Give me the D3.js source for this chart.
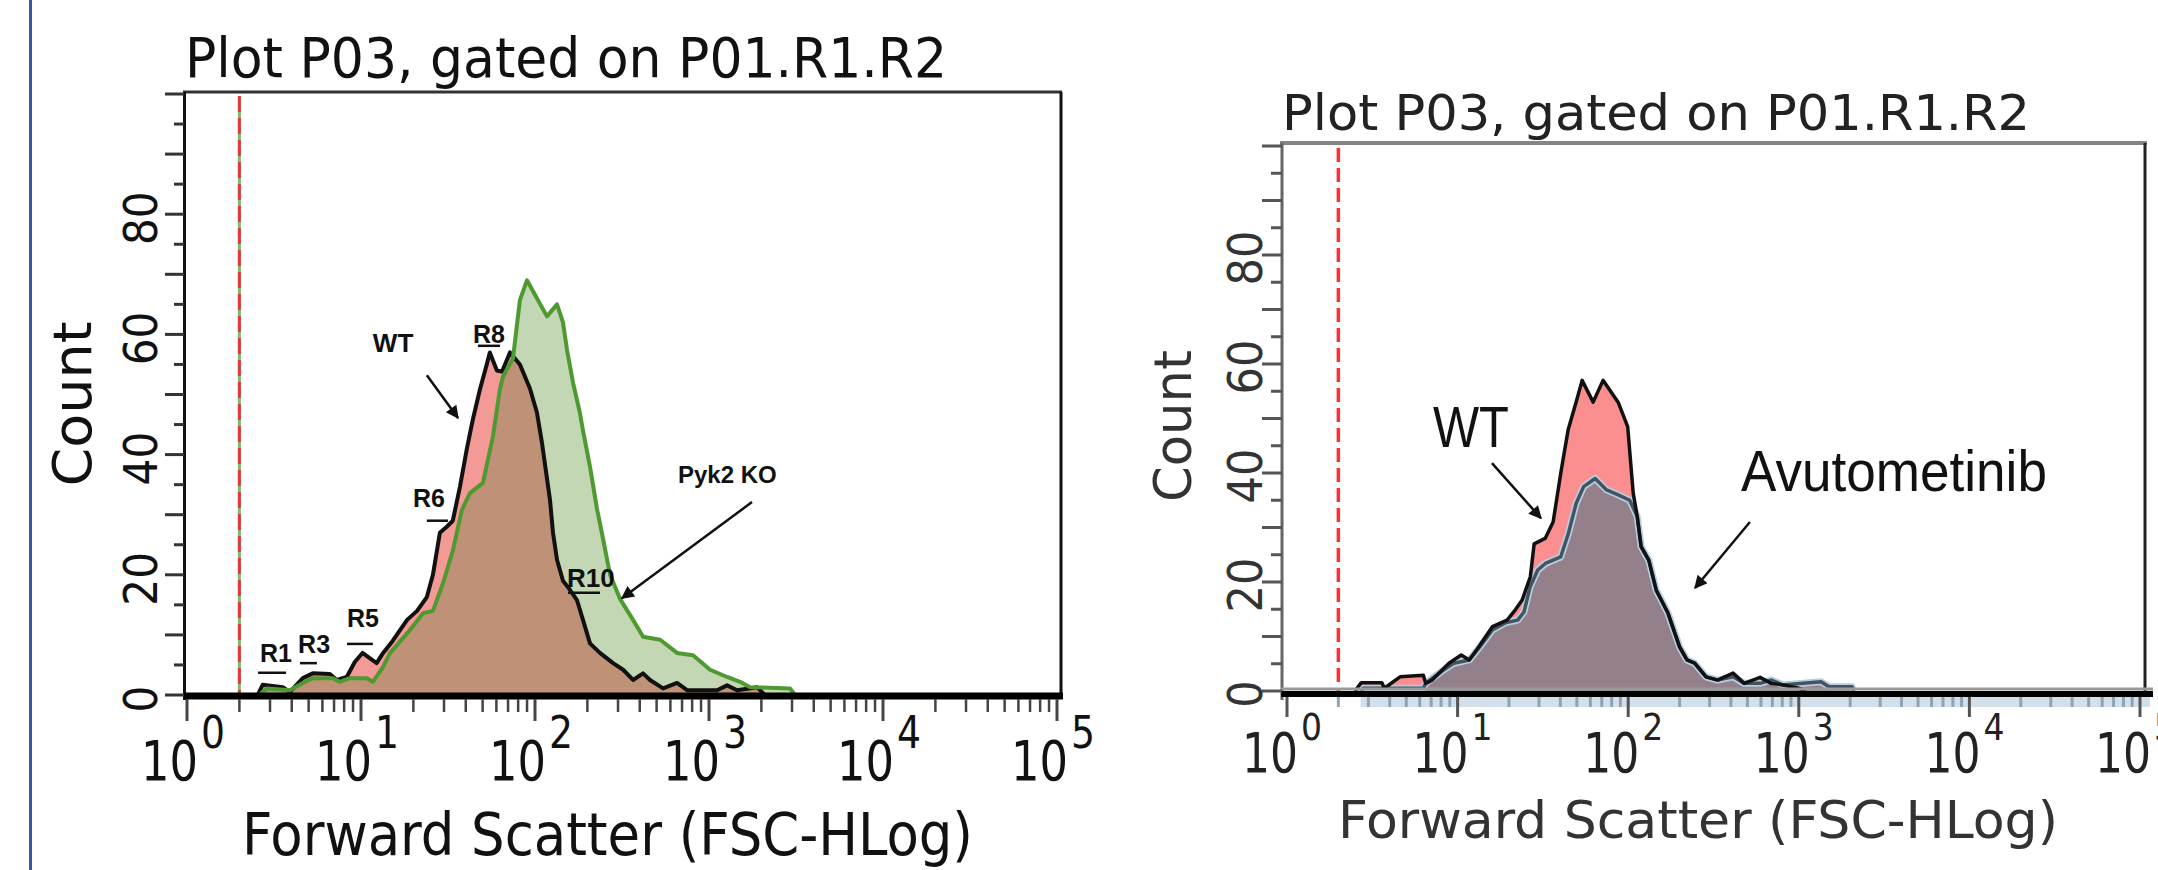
<!DOCTYPE html>
<html>
<head>
<meta charset="utf-8">
<script src="https://cdn.jsdelivr.net/npm/d3@7"></script>
<style>
  body { margin: 0; background: #fff; overflow: hidden; }
  svg { display: block; }
</style>
</head>
<body>
<script>
// histogram outlines, [FSC value, count]
const wtLeft = [[2.55,0],[2.72,1.7],[3.55,1.3],[3.9,0.5],[4.63,2.8],[5.28,3.6],[6.62,3.5],[7.26,2.5],[8.28,3.0],[9.21,5.5],[10.2,7.0],[12.3,5.3],[13.4,7.0],[15.2,9.0],[18.4,12.5],[21.0,14.0],[23.9,16.3],[25.9,20.0],[28.4,27.0],[31.1,28.0],[33.7,29.0],[37.0,34.6],[40.6,41.0],[43.9,45.8],[48.2,50.8],[52.8,55.0],[55.0,57.0],[60.4,54.0],[64.6,53.8],[71.8,57.0],[81.9,55.0],[93.5,51.0],[102.6,47.0],[109.6,42.0],[117.2,36.0],[122,32.4],[126.9,27.0],[133.8,22.5],[144.8,19.0],[158.8,17.5],[174.2,15.8],[188.7,12.5],[207,8.6],[236,7.0],[281,5.3],[321,4.2],[366,2.5],[418,3.6],[458,2.5],[545,1.1],[655,2.0],[748,0.8],[1112,0.8],[1270,1.6],[1449,0.8],[1890,1.3],[2046,0.3],[2100,0]];
const pyk2KO = [[2.6,0],[2.87,1.1],[3.9,0.8],[4.63,2.0],[5.28,2.8],[6.88,2.8],[7.55,2.2],[8.63,2.8],[10.8,2.8],[11.7,2.2],[13.4,4.7],[14.7,7.0],[19.1,10.8],[22.7,13.6],[25.9,14.0],[29.6,18.6],[33.7,24.0],[38.0,30.8],[42.3,33.6],[50.2,35.3],[57.3,43.0],[62.8,50.8],[65.5,53.0],[74.7,56.0],[81.9,65.7],[89.9,69.0],[102.6,66.0],[117.2,63.0],[133.8,65.0],[144.8,62.0],[152.8,57.4],[165.3,52.0],[181,47],[188.7,44],[207,38],[227,31],[246,26],[270,20],[308,16],[366,12.5],[418,9.7],[524,9.2],[655,7.0],[809,6.6],[1014,4.2],[1270,3.0],[1507,2.2],[1722,1.3],[2924,1.1],[3119,0]];
const wtRight = [[2.5,0],[2.72,1.5],[3.6,1.5],[3.72,0.5],[4.6,2.6],[6.3,2.9],[6.5,1.4],[7.1,2],[8.9,5.1],[10.5,6.6],[11.7,5.7],[12.9,7.5],[16,11.8],[19.5,13],[21.8,14.9],[23.9,16.7],[26.7,21],[28.1,27],[32.6,28],[36.3,31],[40.5,40.5],[44.5,48],[49.5,53],[53.7,57],[62.3,53],[71.2,57],[87.3,53],[99.3,48.5],[107,36.3],[113,32],[119,26.5],[132,24],[146,18.5],[171,14.3],[200,8.1],[221,5.7],[245,5.1],[286,2.6],[334,2],[412,3.3],[478,1.4],[593,2.5],[689,1.4],[809,1.1],[1000,0.5],[1100,0]];
const avutometinib = [[2.7,0],[2.8,0.5],[6.3,0.5],[6.5,1.4],[8.3,3.9],[9.5,5.1],[11.7,5.7],[13.5,8.1],[16,11.2],[19,12.5],[22.5,13],[24.5,14.5],[26.6,19.1],[29.5,22.2],[32.7,23.4],[40.2,24.6],[44.6,28.9],[49.5,34.4],[54.8,37.5],[64,39],[74.7,36.9],[87.3,36],[102,35],[113,32],[119,26.5],[132,24],[146,18.5],[171,14.3],[200,8.1],[221,5.7],[245,5.1],[286,2.6],[334,2],[412,2.6],[478,1.4],[593,1.4],[689,2],[809,1.1],[1349,1.7],[1503,0.8],[2050,0.8],[2100,0]];

const gateValue = 2;
const countTicks = [0, 20, 40, 60, 80];
const decades = [0, 1, 2, 3, 4, 5];
const plotTitle = "Plot P03, gated on P01.R1.R2";
const xTitle = "Forward Scatter (FSC-HLog)";

// region markers on the left plot: label at [value, count], underline from u0 to u1 at uc
const regionLabels = [
  {t: "R1", v: 2.63, c: 5.5, u0: 2.56, u1: 3.71, uc: 3.7, fs: 25},
  {t: "R3", v: 4.35, c: 7.0, u0: 4.46, u1: 5.58, uc: 5.3, fs: 25},
  {t: "R5", v: 8.31, c: 11.3, u0: 8.31, u1: 11.7, uc: 8.5, fs: 25},
  {t: "R6", v: 19.9, c: 31.3, u0: 23.9, u1: 31.6, uc: 29.0, fs: 25},
  {t: "R8", v: 44.0, c: 58.6, u0: 47.0, u1: 62.9, uc: 58.1, fs: 25},
  {t: "R10", v: 152.7, c: 18.0, u0: 154.9, u1: 236.4, uc: 17.0, fs: 26}
];

const sans = "'DejaVu Sans Condensed', 'DejaVu Sans', Verdana, sans-serif";
const arial = "'Liberation Sans', Arial, sans-serif";

const svg = d3.select("body").append("svg")
  .attr("width", 2158)
  .attr("height", 870);

const defs = svg.append("defs");
defs.append("marker")
  .attr("id", "head")
  .attr("viewBox", "0 0 10 10")
  .attr("refX", 9).attr("refY", 5)
  .attr("markerUnits", "userSpaceOnUse")
  .attr("markerWidth", 16).attr("markerHeight", 13)
  .attr("orient", "auto")
  .append("path").attr("d", "M0,0L10,5L0,10z").attr("fill", "#111");

// blue rule on the far left
svg.append("rect").attr("x", 29).attr("y", 0).attr("width", 3).attr("height", 870).attr("fill", "#34589a");

function arrow(g, a, b, w) {
  g.append("line")
    .attr("x1", a[0]).attr("y1", a[1]).attr("x2", b[0]).attr("y2", b[1])
    .attr("stroke", "#111").attr("stroke-width", w)
    .attr("marker-end", "url(#head)");
}

// ---------- left plot : WT vs Pyk2 KO ----------
{
  const x = d3.scaleLog().domain([1, 1e5]).range([187, 1057]);
  const y = d3.scaleLinear().domain([0, 100]).range([695, 94]);
  const g = svg.append("g");
  const area = d3.area().x(d => x(d[0])).y0(y(0)).y1(d => y(d[1]));
  const line = d3.line().x(d => x(d[0])).y(d => y(d[1]));

  defs.append("clipPath").attr("id", "koClip")
    .append("path").attr("d", area(pyk2KO));

  g.append("path").attr("d", area(pyk2KO)).attr("fill", "#c3d7b4");
  g.append("path").attr("d", area(wtLeft)).attr("fill", "#f39a96");
  g.append("path").attr("d", area(wtLeft)).attr("fill", "#bf9277").attr("clip-path", "url(#koClip)");
  g.append("path").attr("d", line(wtLeft)).attr("fill", "none").attr("stroke", "#111").attr("stroke-width", 4).attr("stroke-linejoin", "round");
  g.append("path").attr("d", line(pyk2KO)).attr("fill", "none").attr("stroke", "#4f9a30").attr("stroke-width", 4).attr("stroke-linejoin", "round");

  // gate marker
  g.append("line").attr("x1", x(gateValue)).attr("x2", x(gateValue)).attr("y1", 96).attr("y2", 695)
    .attr("stroke", "#7dbb6a").attr("stroke-width", 3);
  g.append("line").attr("x1", x(gateValue)).attr("x2", x(gateValue)).attr("y1", 96).attr("y2", 695)
    .attr("stroke", "#e03a3a").attr("stroke-width", 3).attr("stroke-dasharray", "16 6");

  // frame
  g.append("line").attr("x1", 183).attr("x2", 1062).attr("y1", 92).attr("y2", 92).attr("stroke", "#333").attr("stroke-width", 3);
  g.append("line").attr("x1", 1061).attr("x2", 1061).attr("y1", 92).attr("y2", 695).attr("stroke", "#111").attr("stroke-width", 3);
  g.append("line").attr("x1", 184.5).attr("x2", 184.5).attr("y1", 92).attr("y2", 700).attr("stroke", "#111").attr("stroke-width", 3);
  g.append("line").attr("x1", 184).attr("x2", 1063).attr("y1", 696).attr("y2", 696).attr("stroke", "#000").attr("stroke-width", 7);

  // count ticks
  g.selectAll(".yt").data(d3.range(0, 101, 5)).join("line")
    .attr("x1", d => d % 10 === 0 ? 165 : 174).attr("x2", 184)
    .attr("y1", d => y(d)).attr("y2", d => y(d))
    .attr("stroke", "#333").attr("stroke-width", 3);
  g.selectAll(".yl").data(countTicks).join("text")
    .attr("transform", d => `translate(157,${y(d) + 4}) rotate(-90)`)
    .attr("text-anchor", "middle")
    .attr("font-family", sans).attr("font-size", 47).attr("fill", "#111")
    .text(d => d);

  // log ticks
  g.selectAll(".xt").data(x.ticks()).join("line")
    .attr("x1", d => x(d)).attr("x2", d => x(d))
    .attr("y1", 699).attr("y2", d => Number.isInteger(Math.log10(d)) ? 721 : 712)
    .attr("stroke", "#444").attr("stroke-width", d => Number.isInteger(Math.log10(d)) ? 3 : 2.5);
  decades.forEach(e => {
    const tx = x(10 ** e);
    g.append("text").attr("x", tx + 11).attr("y", 780).attr("text-anchor", "end")
      .attr("font-family", sans).attr("font-size", 55).attr("fill", "#111")
      .attr("textLength", 57).attr("lengthAdjust", "spacingAndGlyphs").text("10");
    g.append("text").attr("x", tx + 14).attr("y", 748)
      .attr("font-family", sans).attr("font-size", 44).attr("fill", "#111")
      .attr("textLength", 24).attr("lengthAdjust", "spacingAndGlyphs").text(e);
  });

  // titles
  g.append("text").attr("x", 185).attr("y", 77)
    .attr("font-family", sans).attr("font-size", 55).attr("fill", "#111")
    .attr("textLength", 762).attr("lengthAdjust", "spacingAndGlyphs").text(plotTitle);
  g.append("text").attr("x", 242).attr("y", 855)
    .attr("font-family", sans).attr("font-size", 58).attr("fill", "#111")
    .attr("textLength", 731).attr("lengthAdjust", "spacingAndGlyphs").text(xTitle);
  g.append("text").attr("transform", "translate(91,404) rotate(-90)").attr("text-anchor", "middle")
    .attr("font-family", sans).attr("font-size", 53).attr("fill", "#111")
    .attr("textLength", 165).attr("lengthAdjust", "spacingAndGlyphs").text("Count");

  // annotations
  regionLabels.forEach(r => {
    g.append("text").attr("x", x(r.v)).attr("y", y(r.c))
      .attr("font-family", arial).attr("font-weight", "bold").attr("font-size", r.fs).attr("fill", "#111").text(r.t);
    g.append("line").attr("x1", x(r.u0)).attr("x2", x(r.u1)).attr("y1", y(r.uc)).attr("y2", y(r.uc))
      .attr("stroke", "#111").attr("stroke-width", 2.5);
  });
  g.append("text").attr("x", x(11.7)).attr("y", y(57.1))
    .attr("font-family", arial).attr("font-weight", "bold").attr("font-size", 26).attr("fill", "#111").text("WT");
  arrow(g, [x(23.9), y(53.2)], [x(36.1), y(46.1)], 2.5);
  g.append("text").attr("x", x(663)).attr("y", y(35.3))
    .attr("font-family", arial).attr("font-weight", "bold").attr("font-size", 24).attr("fill", "#111").text("Pyk2 KO");
  arrow(g, [x(1766), y(32.1)], [x(316), y(16.1)], 2.5);
}

// ---------- right plot : WT vs Avutometinib ----------
{
  const x = d3.scaleLog().domain([1, 1e5]).range([1287, 2140]);
  const y = d3.scaleLinear().domain([0, 100]).range([691, 146]);
  const g = svg.append("g");
  const area = d3.area().x(d => x(d[0])).y0(y(0)).y1(d => y(d[1]));
  const line = d3.line().x(d => x(d[0])).y(d => y(d[1]));

  g.append("path").attr("d", area(wtRight)).attr("fill", "#fb8f8f");
  g.append("path").attr("d", area(avutometinib)).attr("fill", "#93808a");
  g.append("path").attr("d", line(avutometinib)).attr("fill", "none").attr("stroke", "#b5cde0").attr("stroke-width", 7).attr("stroke-linejoin", "round");
  g.append("path").attr("d", line(avutometinib)).attr("fill", "none").attr("stroke", "#44535f").attr("stroke-width", 3.5).attr("stroke-linejoin", "round");
  g.append("path").attr("d", line(wtRight)).attr("fill", "none").attr("stroke", "#111").attr("stroke-width", 3.5).attr("stroke-linejoin", "round");

  g.append("line").attr("x1", x(gateValue)).attr("x2", x(gateValue)).attr("y1", 148).attr("y2", 692)
    .attr("stroke", "#ff3030").attr("stroke-width", 3.5).attr("stroke-dasharray", "14 6");

  // frame
  g.append("line").attr("x1", 1280).attr("x2", 2147).attr("y1", 143).attr("y2", 143).attr("stroke", "#858585").attr("stroke-width", 4);
  g.append("line").attr("x1", 2145).attr("x2", 2145).attr("y1", 143).attr("y2", 692).attr("stroke", "#222").attr("stroke-width", 3);
  g.append("line").attr("x1", 1282).attr("x2", 1282).attr("y1", 143).attr("y2", 700).attr("stroke", "#666").attr("stroke-width", 3);
  g.append("rect").attr("x", x(2.7)).attr("y", 697).attr("width", 2150 - x(2.7)).attr("height", 10).attr("fill", "#d3e0ea");
  g.append("line").attr("x1", 1281).attr("x2", 2153).attr("y1", 689).attr("y2", 689).attr("stroke", "#9a9a9a").attr("stroke-width", 3);
  g.append("line").attr("x1", 1281).attr("x2", 2153).attr("y1", 694).attr("y2", 694).attr("stroke", "#000").attr("stroke-width", 6);

  g.selectAll(".yt").data(d3.range(0, 101, 5)).join("line")
    .attr("x1", d => d % 10 === 0 ? 1262 : 1271).attr("x2", 1282)
    .attr("y1", d => y(d)).attr("y2", d => y(d))
    .attr("stroke", "#555").attr("stroke-width", 3);
  g.selectAll(".yl").data(countTicks).join("text")
    .attr("transform", d => `translate(1262,${y(d) + 3}) rotate(-90)`)
    .attr("text-anchor", "middle")
    .attr("font-family", sans).attr("font-size", 48).attr("fill", "#333")
    .text(d => d);

  g.selectAll(".xt").data(x.ticks()).join("line")
    .attr("x1", d => x(d)).attr("x2", d => x(d))
    .attr("y1", 697).attr("y2", d => Number.isInteger(Math.log10(d)) ? 717 : 707)
    .attr("stroke", d => Number.isInteger(Math.log10(d)) ? "#555" : "#8ea3b5").attr("stroke-width", 3);
  decades.forEach(e => {
    const tx = x(10 ** e);
    g.append("text").attr("x", tx + 11).attr("y", 772).attr("text-anchor", "end")
      .attr("font-family", sans).attr("font-size", 55).attr("fill", "#222")
      .attr("textLength", 56).attr("lengthAdjust", "spacingAndGlyphs").text("10");
    g.append("text").attr("x", tx + 14).attr("y", 740)
      .attr("font-family", sans).attr("font-size", 37).attr("fill", "#222")
      .attr("textLength", 21).attr("lengthAdjust", "spacingAndGlyphs").text(e);
  });

  g.append("text").attr("x", 1282).attr("y", 130)
    .attr("font-family", sans).attr("font-size", 50).attr("fill", "#222")
    .attr("textLength", 748).attr("lengthAdjust", "spacingAndGlyphs").text(plotTitle);
  g.append("text").attr("x", 1338).attr("y", 838)
    .attr("font-family", sans).attr("font-size", 52).attr("fill", "#333")
    .attr("textLength", 720).attr("lengthAdjust", "spacingAndGlyphs").text(xTitle);
  g.append("text").attr("transform", "translate(1191,426) rotate(-90)").attr("text-anchor", "middle")
    .attr("font-family", sans).attr("font-size", 51).attr("fill", "#333")
    .attr("textLength", 152).attr("lengthAdjust", "spacingAndGlyphs").text("Count");

  g.append("text").attr("x", x(7.17)).attr("y", y(44.8))
    .attr("font-family", arial).attr("font-size", 58).attr("fill", "#111")
    .attr("textLength", 76).attr("lengthAdjust", "spacingAndGlyphs").text("WT");
  arrow(g, [x(15.9), y(41.8)], [x(30.8), y(31.7)], 2.5);
  g.append("text").attr("x", x(458)).attr("y", y(36.7))
    .attr("font-family", arial).attr("font-size", 58).attr("fill", "#111")
    .attr("textLength", 306).attr("lengthAdjust", "spacingAndGlyphs").text("Avutometinib");
  arrow(g, [x(517), y(31.0)], [x(246.4), y(18.9)], 2.5);
}
</script>
</body>
</html>
